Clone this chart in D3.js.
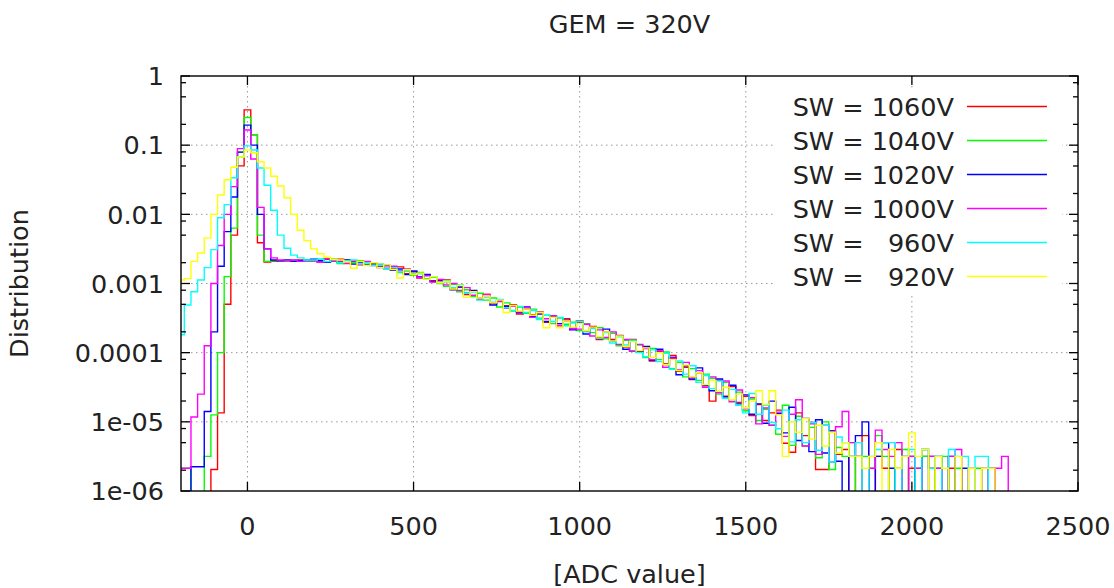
<!DOCTYPE html>
<html>
<head>
<meta charset="utf-8">
<script src="https://cdn.jsdelivr.net/npm/d3@7"></script>
<style>
  html, body { margin: 0; padding: 0; background: #fff; }
  svg text { font-family: "DejaVu Sans", sans-serif; fill: #222; }
</style>
</head>
<body>
<svg id="chart" width="1114" height="588"></svg>
<script>
// ---------------- DATA ----------------
const title = "GEM = 320V";
const xLabel = "[ADC value]";
const yLabel = "Distribution";

// histogram bins: 20 ADC wide, centred on -200, -180, ..., 2300
const binCenters = d3.range(-200, 2301, 20);
const binWidth = 20;

const xTicks = [0, 500, 1000, 1500, 2000, 2500];
const xTickLabels = ["0", "500", "1000", "1500", "2000", "2500"];
const yTicks = [1, 1e-1, 1e-2, 1e-3, 1e-4, 1e-5, 1e-6];
const yTickLabels = ["1", "0.1", "0.01", "0.001", "0.0001", "1e-05", "1e-06"];

const seriesNames = ["SW = 1060V", "SW = 1040V", "SW = 1020V", "SW = 1000V", "SW =   960V", "SW =   920V"];

// log10(distribution) per bin, null = empty bin
const sw1060 = [
  null, null, null, null, null, -5.69, -4.87, -3.30, -2.30, -1.30,
  -0.49, -0.85, -2.41, -2.69, -2.68, -2.67, -2.68, -2.67, -2.66, -2.67,
  -2.66, -2.69, -2.65, -2.68, -2.65, -2.70, -2.68, -2.73, -2.69, -2.73,
  -2.77, -2.74, -2.79, -2.76, -2.86, -2.83, -2.92, -2.88, -2.96, -2.96,
  -2.95, -3.07, -3.05, -3.16, -3.11, -3.21, -3.16, -3.29, -3.25, -3.32,
  -3.31, -3.44, -3.37, -3.45, -3.41, -3.56, -3.48, -3.58, -3.51, -3.65,
  -3.54, -3.69, -3.62, -3.81, -3.70, -3.81, -3.75, -3.92, -3.81, -3.98,
  -3.92, -4.12, -3.98, -4.16, -4.04, -4.27, -4.21, -4.39, -4.29, -4.48,
  -4.70, -4.40, -4.63, -4.49, -4.72, -4.63, -4.91, -4.75, -4.98, -4.87,
  -4.83, -5.31, -5.44, -4.87, -5.20, -5.01, -5.69, -5.69, -5.13, -5.47,
  -5.40, null, -5.50, -5.20, null, -5.50, -5.67, null, -5.40, null,
  -5.67, null, -5.50, -5.67, null, null, -5.67, null, null, null,
  null, null, null, null, null, null
];
const sw1040 = [
  -5.67, -5.67, null, null, -5.50, -4.90, -4.00, -2.90, -2.20, -1.10,
  -0.60, -0.85, -2.30, -2.68, -2.67, -2.67, -2.68, -2.66, -2.67, -2.68,
  -2.68, -2.65, -2.69, -2.66, -2.71, -2.66, -2.70, -2.67, -2.72, -2.71,
  -2.72, -2.79, -2.76, -2.84, -2.82, -2.88, -2.84, -2.93, -2.91, -3.00,
  -3.04, -3.01, -3.12, -3.09, -3.19, -3.14, -3.24, -3.21, -3.34, -3.28,
  -3.40, -3.34, -3.43, -3.37, -3.50, -3.46, -3.58, -3.50, -3.59, -3.56,
  -3.68, -3.58, -3.71, -3.64, -3.80, -3.72, -3.90, -3.82, -3.97, -3.89,
  -4.07, -3.94, -4.10, -3.99, -4.23, -4.14, -4.35, -4.23, -4.40, -4.31,
  -4.37, -4.60, -4.43, -4.68, -4.57, -4.84, -4.67, -4.98, -4.82, -5.05,
  -5.18, -4.76, -5.34, -4.92, -5.35, -5.08, -5.52, -5.00, -5.69, -5.37,
  -5.50, -5.30, null, -5.50, -5.67, -5.20, -5.50, null, -5.67, -5.40,
  null, -5.67, -5.50, null, -5.67, -5.50, null, -5.67, null, null,
  -5.67, null, null, null, null, null
];
const sw1020 = [
  null, null, -5.65, -5.65, -4.85, -3.70, -2.75, -2.25, -1.75, -1.10,
  -0.71, -1.00, -2.00, -2.50, -2.66, -2.67, -2.66, -2.68, -2.67, -2.66,
  -2.65, -2.67, -2.69, -2.65, -2.69, -2.66, -2.72, -2.69, -2.73, -2.71,
  -2.76, -2.74, -2.81, -2.79, -2.87, -2.82, -2.90, -2.87, -2.97, -2.95,
  -2.97, -3.09, -3.05, -3.14, -3.10, -3.23, -3.19, -3.31, -3.24, -3.33,
  -3.32, -3.42, -3.34, -3.48, -3.44, -3.55, -3.47, -3.58, -3.53, -3.67,
  -3.57, -3.73, -3.64, -3.78, -3.66, -3.83, -3.76, -3.95, -3.83, -3.99,
  -3.91, -4.11, -3.95, -4.17, -4.07, -4.32, -4.19, -4.38, -4.22, -4.47,
  -4.55, -4.38, -4.64, -4.47, -4.74, -4.61, -4.89, -4.74, -5.02, -4.70,
  -4.88, -5.16, -4.79, -5.27, -4.95, -5.43, -4.97, -5.45, -5.13, -5.57,
  null, -5.50, -5.20, -5.00, null, -5.50, -5.30, -5.67, null, -5.50,
  -5.50, null, -5.40, -5.50, -5.50, null, -5.50, null, -5.67, null,
  null, null, -5.67, null, null, null
];
const sw1000 = [
  -5.67, -5.67, -4.93, -4.60, -3.90, -3.00, -2.45, -2.00, -1.60, -1.05,
  -0.78, -1.20, -1.90, -2.50, -2.63, -2.66, -2.67, -2.66, -2.68, -2.67,
  -2.67, -2.69, -2.64, -2.68, -2.67, -2.71, -2.67, -2.72, -2.68, -2.74,
  -2.73, -2.78, -2.75, -2.82, -2.79, -2.86, -2.91, -2.89, -2.98, -2.94,
  -3.02, -3.00, -3.10, -3.06, -3.17, -3.23, -3.16, -3.28, -3.26, -3.36,
  -3.33, -3.41, -3.35, -3.49, -3.42, -3.51, -3.47, -3.61, -3.54, -3.65,
  -3.66, -3.59, -3.76, -3.67, -3.78, -3.70, -3.88, -3.81, -3.98, -3.88,
  -3.94, -4.10, -3.97, -4.21, -4.08, -4.25, -4.14, -4.36, -4.26, -4.50,
  -4.35, -4.58, -4.41, -4.71, -4.54, -4.81, -4.65, -5.03, -4.80, -5.05,
  -4.86, -5.21, -4.89, -4.68, -5.35, -5.03, -5.47, -5.05, -5.58, -5.07,
  -4.85, -5.30, -5.50, null, -5.67, -5.12, -5.40, -5.50, -5.30, null,
  -5.50, -5.67, null, -5.50, -5.67, null, -5.50, -5.40, null, -5.67,
  null, -5.67, null, -5.67, -5.50, null
];
const sw960 = [
  -3.74, -3.31, -3.12, -2.95, -2.77, -2.51, -2.05, -1.86, -1.47, -1.17,
  -1.01, -1.07, -1.33, -1.58, -1.94, -2.30, -2.49, -2.59, -2.63, -2.66,
  -2.66, -2.65, -2.68, -2.65, -2.70, -2.67, -2.66, -2.72, -2.70, -2.74,
  -2.73, -2.79, -2.77, -2.83, -2.80, -2.86, -2.86, -2.94, -2.90, -2.99,
  -2.96, -3.06, -3.02, -3.14, -3.13, -3.24, -3.19, -3.27, -3.23, -3.35,
  -3.39, -3.33, -3.42, -3.39, -3.52, -3.46, -3.55, -3.49, -3.61, -3.57,
  -3.55, -3.70, -3.65, -3.79, -3.71, -3.86, -3.77, -3.89, -3.82, -4.00,
  -4.06, -3.96, -4.13, -4.01, -4.24, -4.12, -4.31, -4.19, -4.43, -4.33,
  -4.52, -4.41, -4.66, -4.53, -4.76, -4.87, -4.59, -4.89, -4.76, -5.01,
  -5.10, -4.83, -5.29, -4.97, -5.30, -5.01, -5.41, -5.05, -5.58, -5.22,
  -5.30, -5.50, -5.30, null, -5.50, -5.40, -5.30, -5.30, null, -5.50,
  -5.40, null, -5.40, -5.67, -5.50, null, -5.40, -5.50, -5.50, null,
  -5.50, -5.50, null, null, null, null
];
const sw920 = [
  -2.95, -2.93, -2.68, -2.56, -2.34, -2.00, -1.72, -1.50, -1.32, -1.17,
  -1.07, -1.11, -1.24, -1.33, -1.45, -1.59, -1.76, -2.00, -2.23, -2.38,
  -2.50, -2.57, -2.62, -2.65, -2.66, -2.69, -2.78, -2.68, -2.74, -2.70,
  -2.77, -2.73, -2.80, -2.92, -2.80, -2.87, -2.85, -2.94, -2.90, -2.99,
  -2.97, -3.08, -3.03, -3.20, -3.12, -3.21, -3.18, -3.28, -3.24, -3.42,
  -3.32, -3.40, -3.37, -3.46, -3.42, -3.64, -3.49, -3.64, -3.54, -3.63,
  -3.58, -3.68, -3.63, -3.77, -3.70, -3.83, -3.76, -3.91, -3.84, -3.97,
  -3.93, -4.07, -4.00, -4.17, -4.10, -4.26, -4.18, -4.35, -4.29, -4.46,
  -4.40, -4.56, -4.50, -4.68, -4.60, -4.80, -4.70, -4.55, -4.75, -4.55,
  -4.90, -5.50, -5.00, -5.15, -4.95, -5.25, -5.05, -5.35, -5.15, -5.45,
  -5.30, -5.50, -5.50, -5.67, -5.50, -5.30, null, -5.40, -5.67, -5.50,
  -5.16, -5.50, -5.40, null, -5.50, -5.67, null, -5.50, null, -5.67,
  null, -5.67, -5.67, null, null, null
];
const seriesValues = [sw1060, sw1040, sw1020, sw1000, sw960, sw920];
const seriesColors = ["#ff0000", "#00ff00", "#0000ff", "#ff00ff", "#00ffff", "#ffff00"];

// ---------------- LAYOUT ----------------
const FS = 25.5;
const svg = d3.select("#chart");
const plot = { left: 181, right: 1078, top: 76, bottom: 491 };

const x = d3.scaleLinear().domain([-200, 2500]).range([plot.left, plot.right]);
const y = d3.scaleLog().domain([1e-6, 1]).range([plot.bottom, plot.top]);

svg.append("defs").append("clipPath").attr("id", "clip")
  .append("rect")
  .attr("x", plot.left).attr("y", plot.top)
  .attr("width", plot.right - plot.left).attr("height", plot.bottom - plot.top);

// grid
const grid = svg.append("g").attr("stroke", "#9a9a9a").attr("stroke-width", 1)
  .attr("stroke-dasharray", "1.5,3.5").attr("fill", "none");
xTicks.filter(t => t > -200 && t < 2500).forEach(t => {
  grid.append("line").attr("x1", x(t)).attr("x2", x(t))
    .attr("y1", plot.top).attr("y2", plot.bottom);
});
yTicks.filter(t => t > 1e-6 && t < 1).forEach(t => {
  grid.append("line").attr("x1", plot.left).attr("x2", plot.right)
    .attr("y1", y(t)).attr("y2", y(t));
});

// histograms (step lines)
const below = plot.bottom + 30;
const lineGen = d3.line()
  .x(d => x(d[0]))
  .y(d => d[1] === null ? below : y(Math.pow(10, d[1])))
  .curve(d3.curveStepAfter);

const dataG = svg.append("g").attr("clip-path", "url(#clip)");
seriesValues.forEach((vals, si) => {
  const pts = [[binCenters[0] - binWidth / 2, null]];
  vals.forEach((v, i) => pts.push([binCenters[i] - binWidth / 2, v]));
  pts.push([binCenters[vals.length - 1] + binWidth / 2, null]);
  dataG.append("path")
    .attr("d", lineGen(pts))
    .attr("fill", "none")
    .attr("stroke", seriesColors[si])
    .attr("stroke-width", 1.4)
    .attr("stroke-linejoin", "miter");
});

// legend (opaque box)
const legend = svg.append("g");
legend.append("rect").attr("x", 776).attr("y", 88).attr("width", 286).attr("height", 205)
  .attr("fill", "#fff");
seriesNames.forEach((name, i) => {
  const cy = 106.5 + i * 34;
  legend.append("text").attr("x", 954).attr("y", cy + 9.3)
    .attr("text-anchor", "end").attr("font-size", FS)
    .style("white-space", "pre")
    .attr("xml:space", "preserve")
    .text(name);
  legend.append("line").attr("x1", 967).attr("x2", 1047)
    .attr("y1", cy).attr("y2", cy)
    .attr("stroke", seriesColors[i]).attr("stroke-width", 1.4);
});

// frame
svg.append("rect").attr("x", plot.left).attr("y", plot.top)
  .attr("width", plot.right - plot.left).attr("height", plot.bottom - plot.top)
  .attr("fill", "none").attr("stroke", "#000").attr("stroke-width", 1.4);

// ticks
const ticks = svg.append("g").attr("stroke", "#000").attr("stroke-width", 1.3);
xTicks.forEach(t => {
  ticks.append("line").attr("x1", x(t)).attr("x2", x(t)).attr("y1", plot.bottom).attr("y2", plot.bottom - 9);
  ticks.append("line").attr("x1", x(t)).attr("x2", x(t)).attr("y1", plot.top).attr("y2", plot.top + 9);
});
yTicks.forEach(t => {
  ticks.append("line").attr("x1", plot.left).attr("x2", plot.left + 9).attr("y1", y(t)).attr("y2", y(t));
  ticks.append("line").attr("x1", plot.right).attr("x2", plot.right - 9).attr("y1", y(t)).attr("y2", y(t));
});
const minorMultipliers = [2, 5, 8];
yTicks.slice(1).forEach(t => {
  minorMultipliers.forEach(m => {
    const v = t * m;
    ticks.append("line").attr("x1", plot.left).attr("x2", plot.left + 5).attr("y1", y(v)).attr("y2", y(v));
    ticks.append("line").attr("x1", plot.right).attr("x2", plot.right - 5).attr("y1", y(v)).attr("y2", y(v));
  });
});

// tick labels
xTicks.forEach((t, i) => {
  svg.append("text").attr("x", x(t)).attr("y", 535)
    .attr("text-anchor", "middle").attr("font-size", FS).text(xTickLabels[i]);
});
yTicks.forEach((t, i) => {
  svg.append("text").attr("x", 164).attr("y", y(t) + 9.3)
    .attr("text-anchor", "end").attr("font-size", FS).text(yTickLabels[i]);
});

// titles
svg.append("text").attr("x", (plot.left + plot.right) / 2).attr("y", 33)
  .attr("text-anchor", "middle").attr("font-size", FS).text(title);
svg.append("text").attr("x", (plot.left + plot.right) / 2).attr("y", 583)
  .attr("text-anchor", "middle").attr("font-size", FS).text(xLabel);
svg.append("text").attr("transform", "translate(28," + ((plot.top + plot.bottom) / 2) + ") rotate(-90)")
  .attr("text-anchor", "middle").attr("font-size", FS).text(yLabel);
</script>
</body>
</html>
